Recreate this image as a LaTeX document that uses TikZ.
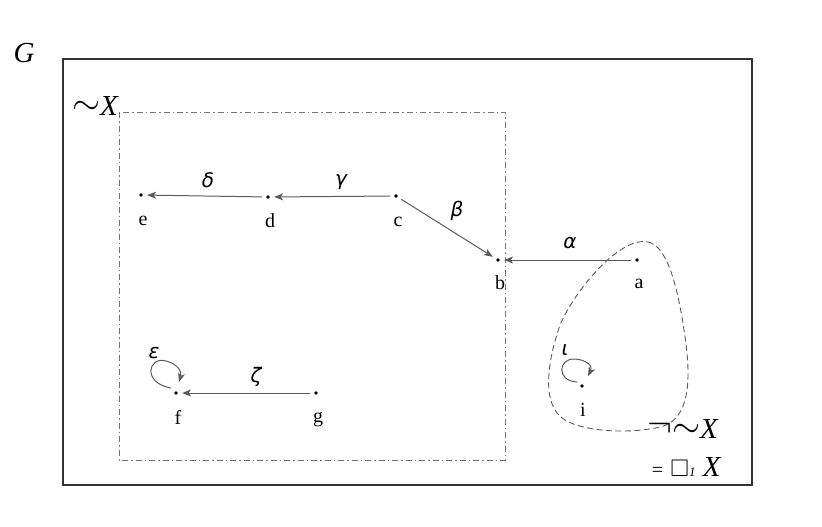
\documentclass[tikz,border=0pt]{standalone}
\usepackage{amssymb}
\usepackage{graphicx}
\usepackage{fontspec}
\setmainfont{Liberation Serif}
\newfontfamily\greekfont{DejaVu Sans}
\usetikzlibrary{arrows.meta}
\definecolor{edgegray}{HTML}{5A5A5A}
\newcommand{\bigtilde}{\raisebox{1pt}{\scalebox{1.45}{$\sim$}}}
\newcommand{\bigneg}{\raisebox{2pt}{\scalebox{1.5}{$\neg$}}}
\tikzset{
  pt/.style={circle,fill=black,inner sep=0pt,minimum size=3.8pt},
  vlabel/.style={font=\fontsize{20}{20}\selectfont},
  elabel/.style={font=\fontsize{20}{20}\selectfont},
  edge/.style={draw=edgegray,line width=1pt,-{Stealth[length=9pt,width=7pt,inset=2.5pt]},shorten <=4pt,shorten >=4pt},
  biglabel/.style={font=\fontsize{29}{29}\selectfont\itshape}
}
\begin{document}
\begin{tikzpicture}[x=1pt,y=-1pt]
\useasboundingbox (0,0) rectangle (822,527);
\draw[line width=1.1pt,draw=black!80] (63,59) rectangle (752,485);
\node[biglabel] (G) at (24,53) {G};
\draw[draw=black!55,line width=0.9pt,dash pattern=on 6pt off 3pt on 1.5pt off 3pt] (119,112) rectangle (505,460);
\node[biglabel,anchor=east,inner sep=1pt] (X) at (119,106) {\upshape\bigtilde\itshape X};
% vertices
\node[pt] (e) at (141,195) {};
\node[pt] (d) at (268,197) {};
\node[pt] (c) at (396,196) {};
\node[pt] (b) at (498,260) {};
\node[pt] (a) at (637,260) {};
\node[pt] (f) at (176,393) {};
\node[pt] (g) at (316,393) {};
\node[pt] (i) at (582,386) {};
\node[vlabel] (le) at (143,221) {e};
\node[vlabel] (ld) at (270,221) {d};
\node[vlabel] (lc) at (398,222) {c};
\node[vlabel] (lb) at (500,283) {b};
\node[vlabel] (la) at (639,284) {a};
\node[vlabel] (lf) at (178,417) {f};
\node[vlabel] (lg) at (318,420) {g};
\node[vlabel] (li) at (583,410) {i};
% edges
\draw[edge] (c) -- (d);
\draw[edge] (d) -- (e);
\draw[edge] (c) -- (b);
\draw[edge] (a) -- (b);
\draw[edge] (g) -- (f);
\draw[draw=edgegray,line width=1pt,-{Stealth[length=9pt,width=7pt,inset=2.5pt]}] (171,388) .. controls (142,383) and (148,356) .. (166,361) .. controls (178,364) and (182,372) .. (179,382);
\draw[draw=edgegray,line width=1pt,-{Stealth[length=9pt,width=7pt,inset=2.5pt]}] (577,382) .. controls (556,381) and (558,358) .. (575,359) .. controls (587,360) and (593,366) .. (588,376);
\node[elabel] (ld2) at (208,180) {\greekfont\itshape δ};
\node[elabel] (lg2) at (341,182) {\greekfont\itshape γ};
\node[elabel] (lb2) at (457,211) {\greekfont\itshape β};
\node[elabel] (la2) at (570,243) {\greekfont\itshape α};
\node[elabel] (lz2) at (256,377) {\greekfont\itshape ζ};
\node[elabel] (le2) at (154,353) {\greekfont\itshape ε};
\node[elabel] (li2) at (565,350) {\greekfont\itshape ι};
% blob
\draw[draw=black!65,line width=0.9pt,dash pattern=on 6pt off 3.5pt]
  (648,242) .. controls (668,246) and (678,290) .. (684,330)
  .. controls (692,380) and (690,420) .. (660,427)
  .. controls (630,434) and (585,432) .. (565,420)
  .. controls (540,405) and (548,360) .. (560,325)
  .. controls (575,290) and (620,236) .. (648,242) -- cycle;
\node[biglabel,anchor=east,inner sep=1pt] (nX) at (719,429) {\upshape\bigneg\bigtilde\itshape X};
\node[anchor=east,font=\fontsize{29}{29}\selectfont] (box) at (724,467) {{\fontsize{20}{20}\selectfont =} {\fontsize{24}{24}\selectfont$\square$}{\fontsize{13}{13}\selectfont\itshape 1} \itshape X};
\end{tikzpicture}
\end{document}
